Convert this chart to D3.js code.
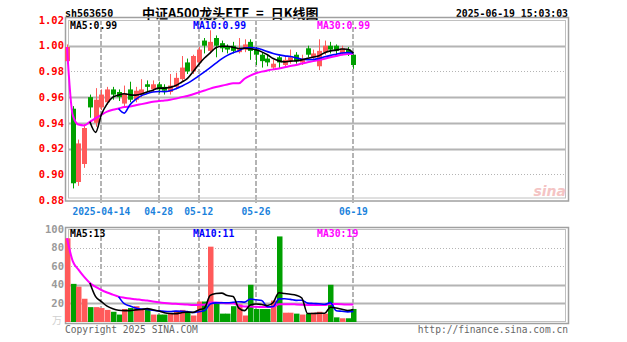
<!DOCTYPE html>
<html><head><meta charset="utf-8">
<script src="https://cdn.jsdelivr.net/npm/d3@7"></script>
<style>body{margin:0;background:#fff;}svg{display:block;}</style>
</head><body>
<svg id="c" width="627" height="342"></svg>
<script>
// ---- data ----
const dates = ["2025-04-03","2025-04-07","2025-04-08","2025-04-09","2025-04-10","2025-04-11",
"2025-04-14","2025-04-15","2025-04-16","2025-04-17","2025-04-18","2025-04-21","2025-04-22","2025-04-23","2025-04-24","2025-04-25",
"2025-04-28","2025-04-29","2025-04-30","2025-05-06","2025-05-07","2025-05-08","2025-05-09",
"2025-05-12","2025-05-13","2025-05-14","2025-05-15","2025-05-16","2025-05-19","2025-05-20","2025-05-21","2025-05-22","2025-05-23",
"2025-05-26","2025-05-27","2025-05-28","2025-05-29","2025-05-30","2025-06-03","2025-06-04","2025-06-05","2025-06-06",
"2025-06-09","2025-06-10","2025-06-11","2025-06-12","2025-06-13","2025-06-16","2025-06-17","2025-06-18","2025-06-19"];
const open  = [0.988,0.951,0.894,0.908,0.960,0.940,0.952,0.956,0.966,0.964,0.955,0.966,0.958,0.962,0.970,0.966,0.970,0.968,0.964,0.968,0.974,0.987,0.980,0.987,1.004,0.996,1.006,1.002,0.999,1.000,0.995,0.997,1.003,0.997,0.993,0.990,0.983,0.991,0.985,0.988,0.993,0.987,0.998,0.991,0.984,0.995,1.000,1.000,0.994,0.997,0.993];
const high  = [1.001,0.953,0.927,0.939,0.962,0.967,0.966,0.968,0.968,0.966,0.969,0.972,0.968,0.974,0.973,0.973,0.972,0.970,0.978,0.979,0.992,0.990,0.993,0.999,1.006,1.012,1.008,1.004,1.001,1.003,1.006,1.005,1.005,0.999,0.995,0.993,0.989,0.992,0.992,0.997,0.995,0.993,1.000,0.997,1.005,1.004,1.003,1.001,1.000,0.999,0.994];
const low   = [0.986,0.889,0.891,0.905,0.944,0.937,0.950,0.954,0.958,0.957,0.953,0.956,0.956,0.960,0.964,0.964,0.963,0.962,0.962,0.966,0.972,0.978,0.978,0.985,0.994,0.994,0.991,0.995,0.994,0.994,0.994,0.995,0.989,0.985,0.983,0.984,0.981,0.982,0.983,0.986,0.986,0.985,0.991,0.989,0.981,0.993,0.994,0.993,0.993,0.992,0.982];
const close = [0.999,0.893,0.924,0.936,0.952,0.958,0.962,0.966,0.962,0.960,0.963,0.958,0.965,0.966,0.968,0.970,0.966,0.965,0.969,0.975,0.983,0.980,0.992,0.997,1.000,1.003,1.000,0.998,0.997,0.996,0.998,1.001,0.996,0.993,0.988,0.987,0.986,0.987,0.989,0.991,0.988,0.990,0.993,0.994,0.996,1.000,0.997,0.996,0.998,0.995,0.985];
const volume = [90,41,38,25,16,16,15,13,11,8,14,15,17,13,13,8,8,8,9,12,13,11,7,22,22,81,21,9,9,17,19,7,40,14,14,14,23,92,10,10,9,8,9,10,11,9,40,5,4,4,14];
const priceTicks = [1.02,1.00,0.98,0.96,0.94,0.92,0.90,0.88];
const volTicks = [100,80,60,40,20];
const tickDates = ["2025-04-14","2025-04-28","2025-05-12","2025-05-26","2025-06-19"];
const tickLabels = ["2025-04-14","04-28","05-12","05-26","06-19"];
const code = "sh563650";
const title = "中证A500龙头ETF = 日K线图";
const stamp = "2025-06-19 15:03:03";

// ---- helpers ----
function ma(arr, n, partial){
  return arr.map((_,i)=>{
    if(i<n-1 && !partial) return null;
    return d3.mean(arr.slice(Math.max(0,i-n+1), i+1));
  });
}
const RED="#ff5a5a", GREEN="#00a000", GRID="#b4b4b4";
const svg = d3.select("#c");
const mono = "'DejaVu Sans Mono', monospace";

const x = d3.scaleLinear().domain([0,87.3]).range([67,567]);
const yP = d3.scaleLinear().domain([0.88,1.02]).range([200,20]);
const yV = d3.scaleLinear().domain([0,100]).range([322,229]);

const idx = d3.range(dates.length);
const up = i => close[i] >= open[i];

// ---- header ----
svg.append("text").attr("x",65).attr("y",16.5).attr("font-family",mono).attr("font-weight","bold")
  .attr("font-size",10).attr("fill","#000").text(code);
svg.append("text").attr("x",142).attr("y",17.5).attr("font-family","'Noto Sans CJK SC', sans-serif").attr("font-weight","bold")
  .attr("font-size",13).attr("word-spacing",4).attr("fill","#000").text(title);
svg.append("text").attr("x",568).attr("y",16.5).attr("text-anchor","end").attr("font-family",mono).attr("font-weight","bold")
  .attr("font-size",9.8).attr("fill","#000").text(stamp);

// ---- price panel grid ----
const gP = svg.append("g");
priceTicks.slice(1,-1).forEach(t=>{
  const dotted = (Math.round(t*100)===98 || Math.round(t*100)===90);
  gP.append("line").attr("x1",68).attr("x2",566).attr("y1",Math.round(yP(t))+0.5).attr("y2",Math.round(yP(t))+0.5)
    .attr("stroke",GRID).attr("stroke-width",dotted?1:2).attr("stroke-dasharray",dotted?"1,2":null);
});
tickDates.forEach(d=>{
  const xi = Math.round(x(dates.indexOf(d)));
  gP.append("line").attr("x1",xi).attr("x2",xi).attr("y1",20).attr("y2",203)
    .attr("stroke",GRID).attr("stroke-width",2).attr("stroke-dasharray","5,2");
});
// frames
gP.append("rect").attr("x",65.5).attr("y",17.5).attr("width",503).attr("height",183.5).attr("fill","none").attr("stroke","#a0a0a0").attr("stroke-width",1.5);
gP.append("rect").attr("x",68.5).attr("y",20.5).attr("width",497).attr("height",177.5).attr("fill","none").attr("stroke","#c0c0c0").attr("stroke-width",1);

// sina watermark
svg.append("text").attr("x",566).attr("y",196).attr("text-anchor","end").attr("font-family","'DejaVu Sans', sans-serif")
  .attr("font-style","italic").attr("font-weight","bold").attr("font-size",14).attr("fill","#f4c4c4").text("sina");

// price labels
priceTicks.forEach(t=>{
  svg.append("text").attr("x",64).attr("y",yP(t)).attr("dy","0.35em").attr("text-anchor","end")
    .attr("font-family",mono).attr("font-weight","bold").attr("font-size",10.5).attr("fill","#ff0000").text(d3.format(".2f")(t));
});
// date labels
tickDates.forEach((d,k)=>{
  svg.append("text").attr("x",x(dates.indexOf(d))).attr("y",215).attr("text-anchor","middle")
    .attr("font-family",mono).attr("font-weight","bold").attr("font-size",9.6).attr("fill","#1a82dc").text(tickLabels[k]);
});

// candles
const gC = svg.append("g");
idx.forEach(i=>{
  const cx = Math.round(x(i));
  const col = up(i)?RED:GREEN;
  gC.append("line").attr("x1",cx+0.5).attr("x2",cx+0.5).attr("y1",yP(high[i])).attr("y2",yP(low[i])).attr("stroke",col).attr("stroke-width",1);
  const top = yP(Math.max(open[i],close[i])), bot = yP(Math.min(open[i],close[i]));
  gC.append("rect").attr("x",cx-2).attr("y",top).attr("width",5).attr("height",Math.max(1,bot-top)).attr("fill",col);
});

// MA lines (price)
const lineP = d3.line().defined(d=>d[1]!=null).x(d=>x(d[0])).y(d=>yP(d[1])).curve(d3.curveMonotoneX);
const pma5 = ma(close,5,false), pma10 = ma(close,10,false), pma30 = ma(close,30,true);
[[pma30,"#ff00ff",2],[pma10,"#0000ff",1.6],[pma5,"#000000",1.6]].forEach(([arr,c,w])=>{
  svg.append("path").attr("d",lineP(arr.map((v,i)=>[i,v]))).attr("fill","none").attr("stroke",c).attr("stroke-width",w);
});
const f2 = d3.format(".2f");
[["MA5:"+f2(pma5[pma5.length-1]),"#000",70],["MA10:"+f2(pma10[pma10.length-1]),"#0000ff",193],["MA30:"+f2(pma30[pma30.length-1]),"#ff00ff",317]].forEach(([t,c,xx])=>{
  svg.append("text").attr("x",xx).attr("y",29).attr("font-family",mono).attr("font-weight","bold").attr("font-size",9.8).attr("fill",c).text(t);
});

// ---- volume panel ----
const gV = svg.append("g");
volTicks.slice(1).forEach(t=>{
  gV.append("line").attr("x1",68).attr("x2",566).attr("y1",Math.round(yV(t))+0.5).attr("y2",Math.round(yV(t))+0.5)
    .attr("stroke",GRID).attr("stroke-width",t>=60?1:2).attr("stroke-dasharray",t>=60?"1,2":null);
});
tickDates.forEach(d=>{
  const xi = Math.round(x(dates.indexOf(d)));
  gV.append("line").attr("x1",xi).attr("x2",xi).attr("y1",229).attr("y2",322)
    .attr("stroke",GRID).attr("stroke-width",2).attr("stroke-dasharray","5,2");
});
gV.append("rect").attr("x",65.5).attr("y",227.5).attr("width",503).attr("height",96).attr("fill","none").attr("stroke","#a0a0a0").attr("stroke-width",1.5);
gV.append("rect").attr("x",68.5).attr("y",229.5).attr("width",497).attr("height",92).attr("fill","none").attr("stroke","#c0c0c0").attr("stroke-width",1);

idx.forEach(i=>{
  const cx = Math.round(x(i));
  gV.append("rect").attr("x",cx-2).attr("y",yV(volume[i])).attr("width",5.5).attr("height",yV(0)-yV(volume[i]))
    .attr("fill",up(i)?RED:GREEN);
});
volTicks.forEach(t=>{
  svg.append("text").attr("x",64).attr("y",yV(t)).attr("dy","0.35em").attr("text-anchor","end")
    .attr("font-family",mono).attr("font-weight","bold").attr("font-size",10.5).attr("fill","#9a9a9a").text(t);
});
svg.append("text").attr("x",62).attr("y",yV(0)).attr("dy","0.2em").attr("text-anchor","end")
  .attr("font-family","'Noto Sans CJK SC', sans-serif").attr("font-size",10).attr("fill","#d0d0d0").text("万");

const lineV = d3.line().defined(d=>d[1]!=null).x(d=>x(d[0])).y(d=>yV(d[1])).curve(d3.curveMonotoneX);
const vma5 = ma(volume,5,false), vma10 = ma(volume,10,false), vma30 = ma(volume,30,true);
[[vma30,"#ff00ff",2],[vma10,"#0000ff",1.6],[vma5,"#000000",1.6]].forEach(([arr,c,w])=>{
  svg.append("path").attr("d",lineV(arr.map((v,i)=>[i,v]))).attr("fill","none").attr("stroke",c).attr("stroke-width",w);
});
const f0 = d3.format(".0f");
[["MA5:"+f0(vma5[vma5.length-1]),"#000",70],["MA10:"+f0(vma10[vma10.length-1]),"#0000ff",193],["MA30:"+f0(vma30[vma30.length-1]),"#ff00ff",317]].forEach(([t,c,xx])=>{
  svg.append("text").attr("x",xx).attr("y",237).attr("font-family",mono).attr("font-weight","bold").attr("font-size",9.8).attr("fill",c).text(t);
});

// footer
svg.append("text").attr("x",65).attr("y",333).attr("font-family",mono).attr("font-size",9.6).attr("fill","#666").text("Copyright 2025 SINA.COM");
svg.append("text").attr("x",568).attr("y",333).attr("text-anchor","end").attr("font-family",mono).attr("font-size",9.6).attr("fill","#666").text("http://finance.sina.com.cn");
</script>
</body></html>
